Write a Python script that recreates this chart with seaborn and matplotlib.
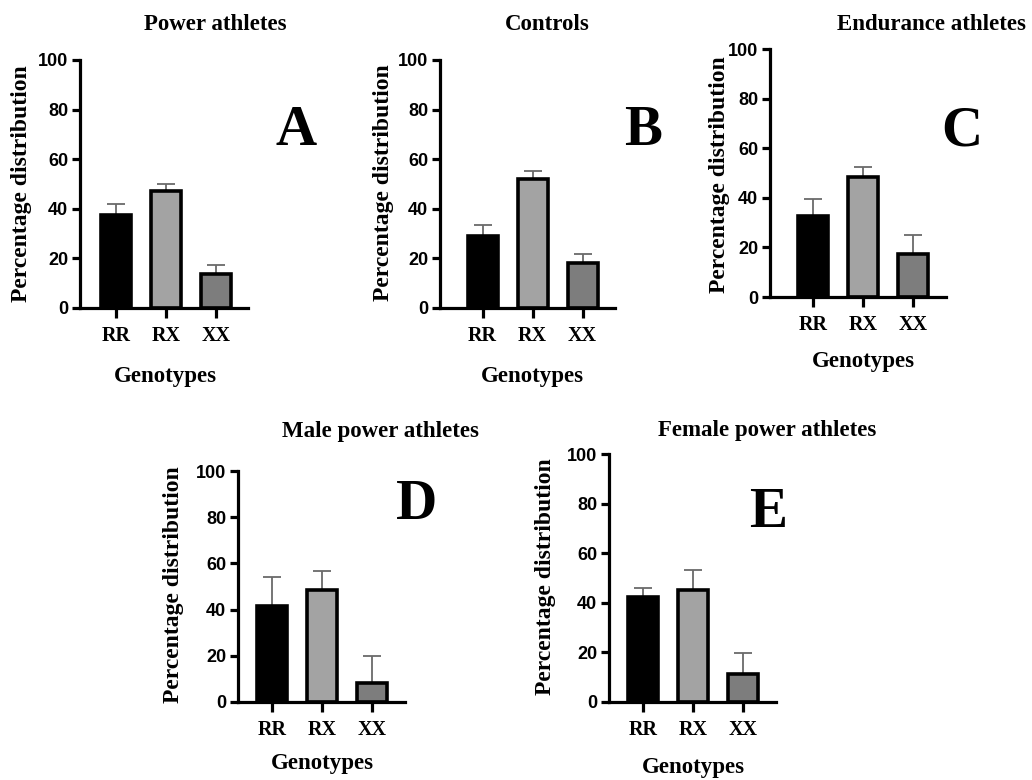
import matplotlib
matplotlib.use("Agg")
import matplotlib.pyplot as plt
import seaborn as sns

# ---------------------------------------------------------------
# data (percentage distribution, mean + upper error)
# ---------------------------------------------------------------
genotypes = ["RR", "RX", "XX"]

power = [37.7, 47.1, 13.9]
power_err = [4.4, 3.0, 3.3]

controls = [29.1, 52.0, 18.2]
controls_err = [4.3, 3.3, 3.7]

endurance = [32.6, 48.2, 17.5]
endurance_err = [7.0, 4.4, 7.7]

male_power = [41.6, 48.4, 8.4]
male_power_err = [12.6, 8.4, 11.4]

female_power = [42.3, 45.0, 11.4]
female_power_err = [3.5, 8.3, 8.3]

titles = ["Power athletes", "Controls", "Endurance athletes",
          "Male power athletes", "Female power athletes"]
letters = ["A", "B", "C", "D", "E"]

bar_colors = ["#000000", "#a3a3a3", "#7d7d7d"]

W, H = 1032, 780
SERIF = "Liberation Serif"
SANS = "Liberation Sans"

# layout in pixels: axis left/right, y of 100 / y of 0, centre of first bar,
# title pos, letter pos, ylabel pos, xlabel pos
panels = [
    dict(vals=power, err=power_err, left=80, right=248, top=60, bottom=308, c0=116,
         title=(215, 25), letter=(296, 131), ylab=(22, 184), xlab=(165, 376)),
    dict(vals=controls, err=controls_err, left=440, right=615, top=60, bottom=308, c0=482.5,
         title=(547, 25), letter=(643, 131), ylab=(383, 183), xlab=(532, 376)),
    dict(vals=endurance, err=endurance_err, left=770, right=946, top=49, bottom=297, c0=813,
         title=(931, 25), letter=(962, 131), ylab=(720, 175), xlab=(863, 362)),
    dict(vals=male_power, err=male_power_err, left=238, right=405, top=471, bottom=702, c0=272,
         title=(380, 432), letter=(417, 505), ylab=(173, 585), xlab=(322, 763)),
    dict(vals=female_power, err=female_power_err, left=609, right=776, top=454, bottom=702, c0=643,
         title=(767, 430), letter=(768, 513), ylab=(545, 577), xlab=(693, 768)),
]

sns.set_theme(style="white")
plt.rcParams["text.color"] = "black"
plt.rcParams["axes.labelcolor"] = "black"
fig = plt.figure(figsize=(W / 100, H / 100), dpi=100)
fig.patch.set_facecolor("white")


def fx(px):
    return px / W


def fy(py):
    return 1 - py / H


spacing = 50.0
for i, p in enumerate(panels):
    ax = fig.add_axes([fx(p["left"]), fy(p["bottom"]),
                       (p["right"] - p["left"]) / W, (p["bottom"] - p["top"]) / H])
    sns.barplot(x=genotypes, y=p["vals"], hue=genotypes, palette=bar_colors,
                legend=False, width=0.6, edgecolor="black", linewidth=2.6,
                zorder=2, ax=ax)

    # upper-only error bars, centred on the seaborn bars (drawn behind the bars
    # so the zero-length lower cap is hidden)
    centres = [b.get_x() + b.get_width() / 2 for b in ax.patches]
    ax.errorbar(centres, p["vals"], yerr=[[0] * len(p["err"]), p["err"]],
                fmt="none", ecolor="#6a6a6a", elinewidth=1.3, capsize=6.5,
                capthick=1.3, zorder=1)

    ax.set_xlim((p["left"] - p["c0"]) / spacing, (p["right"] - p["c0"]) / spacing)
    ax.set_ylim(0, 100)
    ax.set_yticks([0, 20, 40, 60, 80, 100])
    ax.set_xlabel("")
    ax.set_ylabel("")
    ax.set_facecolor("white")

    sns.despine(ax=ax)
    for side in ["left", "bottom"]:
        ax.spines[side].set_linewidth(2.3)
        ax.spines[side].set_color("black")
        ax.spines[side].set_zorder(3)

    ax.tick_params(axis="y", direction="out", length=6, width=2.3, pad=2.5,
                   left=True, colors="black")
    ax.tick_params(axis="x", direction="out", length=7, width=2.3, pad=6,
                   bottom=True, colors="black")
    for lab in ax.get_yticklabels():
        lab.set_fontfamily(SANS)
        lab.set_fontweight("bold")
        lab.set_fontsize(13)
    for lab in ax.get_xticklabels():
        lab.set_fontfamily(SERIF)
        lab.set_fontweight("bold")
        lab.set_fontsize(14.5)

    fig.text(fx(p["title"][0]), fy(p["title"][1]), titles[i], family=SERIF,
             weight="bold", fontsize=16.5, ha="center", va="center", color="black")
    fig.text(fx(p["letter"][0]), fy(p["letter"][1]), letters[i], family=SERIF,
             weight="bold", fontsize=41, ha="center", va="center", color="black")
    fig.text(fx(p["ylab"][0]), fy(p["ylab"][1]), "Percentage distribution",
             family=SERIF, weight="bold", fontsize=17, rotation=90,
             ha="center", va="center", color="black")
    fig.text(fx(p["xlab"][0]), fy(p["xlab"][1]), "Genotypes", family=SERIF,
             weight="bold", fontsize=16.5, ha="center", va="center", color="black")

plt.savefig("out.png", dpi=100, facecolor="white")
